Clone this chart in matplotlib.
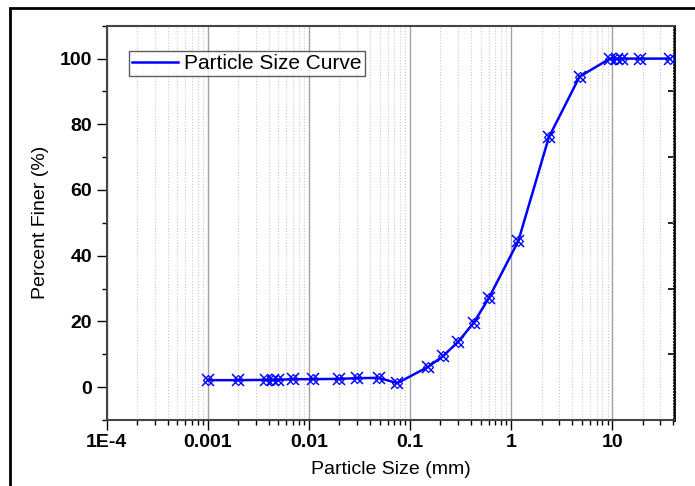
import numpy as np
import matplotlib
matplotlib.use("Agg")
import matplotlib.pyplot as plt
from matplotlib.patches import Rectangle
from matplotlib.lines import Line2D
from matplotlib.ticker import FixedLocator, LogLocator, NullFormatter, MultipleLocator

plt.rcParams["font.family"] = ["Liberation Sans", "DejaVu Sans"]

# Veri (okunan degerler)
boyut_mm = [0.001, 0.002, 0.0038, 0.0044, 0.0049, 0.0069, 0.011, 0.02, 0.03,
            0.049, 0.075, 0.15, 0.212, 0.3, 0.425, 0.6, 1.18, 2.36, 4.75,
            9.5, 11.2, 12.5, 19.0, 37.5]
yuzde_ince = [2.1, 2.1, 2.2, 2.2, 2.2, 2.4, 2.4, 2.5, 2.7,
              2.8, 1.2, 6.1, 9.4, 13.8, 19.5, 27.0, 44.5, 76.0, 94.5,
              100, 100, 100, 100, 100]

x_tikler = [1e-4, 1e-3, 1e-2, 1e-1, 1, 10]
x_etiketler = ["1E-4", "0.001", "0.01", "0.1", "1", "10"]
y_tikler = [0, 20, 40, 60, 80, 100]
sag_tikler = [10, 30, 50, 70, 90]

fig = plt.figure(figsize=(6.95, 4.86), dpi=100)
ax = fig.add_axes([0.1535, 0.136, 0.8165, 0.811])

ax.plot(boyut_mm, yuzde_ince, color="#0000ff", lw=1.8, marker="x", ms=8,
        mew=1.1, zorder=3)
ax.plot(boyut_mm, yuzde_ince, ls="none", marker="D", ms=5, mfc="none",
        mec="#0000ff", mew=0.9, zorder=3)

ax.set_xscale("log")
ax.set_xlim(1e-4, 41)
ax.set_ylim(-10, 110)

ax.xaxis.set_major_locator(FixedLocator(x_tikler))
ax.set_xticklabels(x_etiketler)
ax.xaxis.set_minor_locator(LogLocator(base=10, subs=np.arange(2, 10)))
ax.xaxis.set_minor_formatter(NullFormatter())
ax.set_yticks(y_tikler)
ax.yaxis.set_minor_locator(MultipleLocator(10))

for lbl in ax.get_xticklabels() + ax.get_yticklabels():
    lbl.set_fontweight("bold")
    lbl.set_fontsize(14)

ax.tick_params(axis="both", which="major", direction="out", length=7, width=1)
ax.tick_params(axis="both", which="minor", direction="out", length=3.5, width=1)

ax.grid(True, which="major", axis="x", color="#a0a0a0", lw=1.0, ls="-")
ax.grid(True, which="minor", axis="x", color="#c8c8c8", lw=0.8, ls=":")
ax.set_axisbelow(True)

for s in ["left", "top", "bottom"]:
    ax.spines[s].set_color("#444444")
    ax.spines[s].set_linewidth(1.5)
ax.spines["right"].set_visible(False)

# sag eksen: iceri bakan tikler
sag = ax.secondary_yaxis("right")
sag.set_yticks(sag_tikler)
sag.tick_params(direction="in", length=4, width=1.2, labelright=False)
sag.yaxis.set_minor_locator(FixedLocator([]))
sag.spines["right"].set_color("black")
sag.spines["right"].set_linewidth(2)

ax.set_xlabel("Particle Size (mm)", fontsize=14, labelpad=7)
ax.set_ylabel("Percent Finer (%)", fontsize=14, labelpad=8)

tutucu = Line2D([], [], color="#0000ff", lw=1.8)
leg = ax.legend([tutucu], ["Particle Size Curve"], loc="upper left",
                bbox_to_anchor=(0.039, 0.936), fontsize=15, frameon=True,
                fancybox=False, edgecolor="#333333", handlelength=2.2,
                borderpad=0.15, handletextpad=0.3, borderaxespad=0)
leg.get_frame().set_linewidth(1.0)

# Dis cerceve
fig.patches.append(Rectangle((10 / 695, -0.1), 1.2, 0.1 + (1 - 8 / 486),
                             transform=fig.transFigure, fill=False,
                             edgecolor="black", lw=2))

plt.savefig("out.png", dpi=100)
